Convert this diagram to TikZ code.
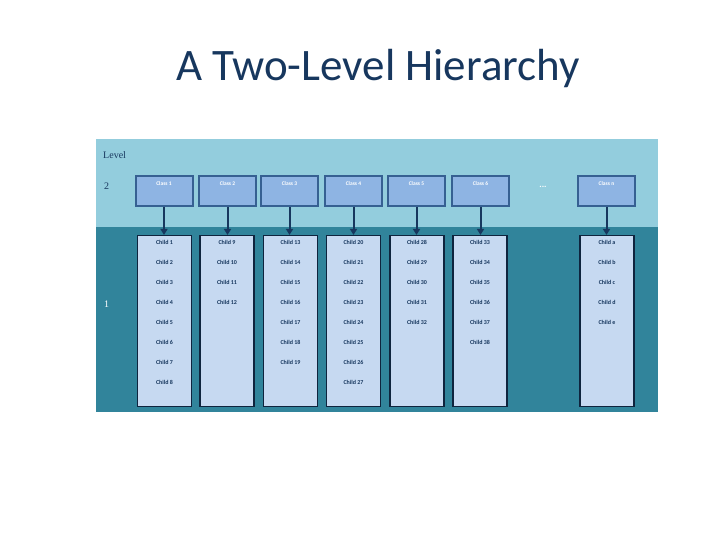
\documentclass[tikz,border=0pt]{standalone}
\usepackage{fontspec}
\setmainfont{Carlito}
\newfontfamily\serifff{Liberation Serif}
\usetikzlibrary{arrows.meta}
\definecolor{navy}{HTML}{17375E}
\definecolor{lightband}{HTML}{93CDDD}
\definecolor{darkband}{HTML}{31849B}
\definecolor{classfill}{HTML}{8EB4E3}
\definecolor{classedge}{HTML}{366092}
\definecolor{childfill}{HTML}{C6D9F1}
\definecolor{childedge}{HTML}{0F243E}
\tikzset{
  classbox/.style={draw=classedge, line width=2pt, fill=classfill, minimum width=57pt, minimum height=30pt, inner sep=0pt},
  childbox/.style={draw=childedge, line width=1.1pt, fill=childfill, minimum width=54pt, minimum height=171pt, inner sep=0pt},
  classtxt/.style={text=white, font=\fontsize{5.5}{6}\selectfont\bfseries, inner sep=0pt},
  childtxt/.style={text=navy, font=\fontsize{6}{7}\selectfont\bfseries, inner sep=0pt},
  lvltxt/.style={font=\serifff\fontsize{10}{12}\selectfont, inner sep=0pt, anchor=west},
  conn/.style={draw=navy, line width=2pt, -{Triangle[length=6pt,width=7pt]}},
}
\begin{document}
\begin{tikzpicture}[x=1pt,y=-1pt]
\useasboundingbox (0,0) rectangle (720,540);
\node[text=navy, font=\fontsize{45}{50}\selectfont, anchor=base] (title) at (378,81) {A Two-Level Hierarchy};
\fill[lightband] (96,139) rectangle (658,227);
\fill[darkband] (96,227) rectangle (658,412);
\node[lvltxt, text=navy] (lvl) at (103,155) {Level};
\node[lvltxt, text=navy] (l2) at (104,186) {2};
\node[lvltxt, text=white] (l1) at (104,304) {1};
% class boxes
\foreach \n/\x/\lab in {c1/164/Class 1, c2/227.5/Class 2, c3/289.5/Class 3, c4/353.5/Class 4, c5/416.5/Class 5, c6/480.5/Class 6, cn/606.5/Class n}{
  \node[classbox] (\n) at (\x,191) {};
  \node[classtxt] at (\x,184) {\lab};
}
\node[text=white, font=\fontsize{9}{9}\selectfont\bfseries, inner sep=0pt] (dots) at (543,187) {...};
% child boxes
\foreach \n/\x in {k1/164.5, k2/227, k3/290.5, k4/353.5, k5/417, k6/480, kn/607}{
  \node[childbox] (\n) at (\x,321) {};
}
\foreach \c/\k in {c1/k1, c2/k2, c3/k3, c4/k4, c5/k5, c6/k6, cn/kn}{
  \draw[conn] (\c.south) -- (\c.south |- \k.north);
}
% child texts
\foreach \x/\list in {164.5/{1,2,3,4,5,6,7,8}, 227/{9,10,11,12}, 290.5/{13,14,15,16,17,18,19}, 353.5/{20,21,22,23,24,25,26,27}, 417/{28,29,30,31,32}, 480/{33,34,35,36,37,38}, 607/{a,b,c,d,e}}{
  \foreach \t [count=\i from 0] in \list {
    \node[childtxt] at (\x,242+20*\i) {Child \t};
  }
}
\end{tikzpicture}
\end{document}
